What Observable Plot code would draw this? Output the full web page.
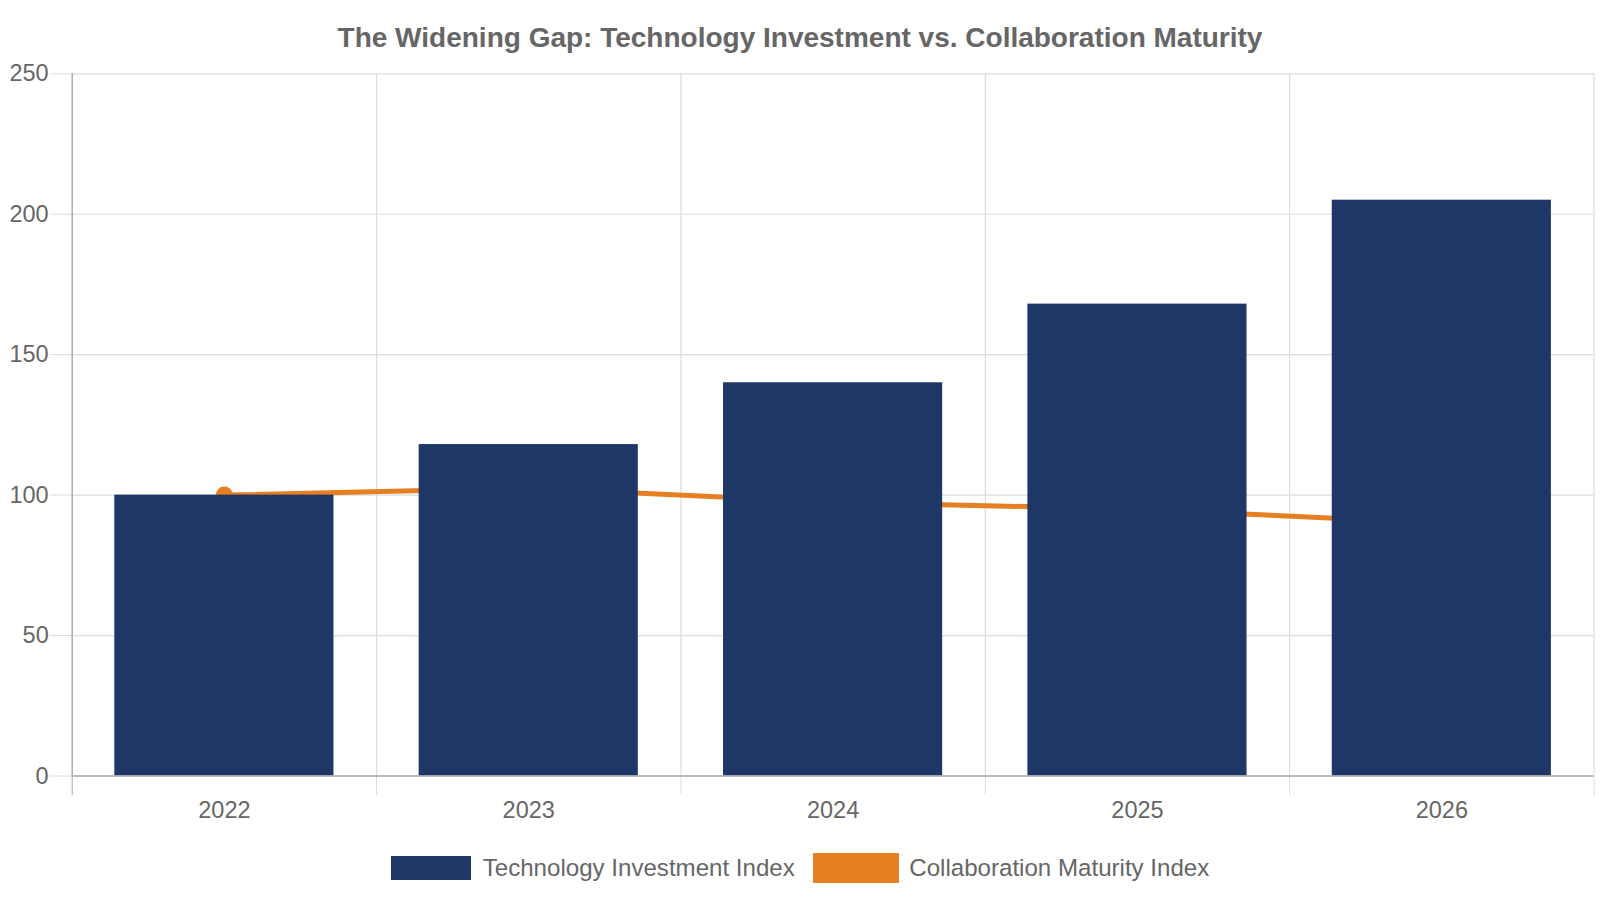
<!DOCTYPE html>
<html>
<head>
<meta charset="utf-8">
<script src="https://cdn.jsdelivr.net/npm/d3@7"></script>
<script src="https://cdn.jsdelivr.net/npm/@observablehq/plot@0.6"></script>
<style>
  html, body { margin: 0; padding: 0; background: #fff; }
  #wrap { position: relative; width: 1600px; height: 900px; font-family: "Liberation Sans", Arial, sans-serif; color: #666; }
  #title { position: absolute; left: 0; top: 0; width: 1600px; height: 75.4px; line-height: 75.4px; text-align: center; font-weight: bold; font-size: 28px; color: #666; }
  #chart { position: absolute; left: 0; top: 60px; }
  #legend { position: absolute; left: 0; top: 835px; width: 1600px; height: 66px; display: flex; justify-content: center; align-items: center; font-size: 24.1px; color: #666; }
  .sw { display: inline-block; }
</style>
</head>
<body>
<div id="wrap">
  <div id="title"></div>
  <div id="chart"></div>
  <div id="legend"></div>
</div>
<script>
const titleText = "The Widening Gap: Technology Investment vs. Collaboration Maturity";
const years = [2022, 2023, 2024, 2025, 2026];
const techInvestment = [100, 118, 140, 168, 205];
const collabMaturity = [100, 102.5, 97.5, 95, 90];
const yTicks = [0, 50, 100, 150, 200, 250];
const seriesNames = ["Technology Investment Index", "Collaboration Maturity Index"];
const seriesColors = ["#1e3766", "#e67e22"];

const data = years.map((year, i) => ({year, tech: techInvestment[i], collab: collabMaturity[i]}));
const boundaries = [years[0] - 0.5, ...years.map(y => y + 0.5)];
const innerBoundaries = boundaries.slice(1);

document.getElementById("title").textContent = titleText;

const gridColor = "#dcdcdc";

const chart = Plot.plot({
  width: 1600,
  height: 775,
  marginLeft: 71.7,
  marginRight: 6.5,
  marginTop: 13.3,
  marginBottom: 59.5,
  x: {type: "linear", domain: [boundaries[0], boundaries[boundaries.length - 1]]},
  y: {domain: [0, 250]},
  style: {fontFamily: "'Liberation Sans', Arial, sans-serif", fontSize: "23.5px", color: "#666", background: "#fff", overflow: "visible"},
  marks: [
    Plot.ruleY(yTicks, {stroke: gridColor, strokeWidth: 1.2}),
    Plot.ruleX(innerBoundaries, {stroke: gridColor, strokeWidth: 1.2}),
    Plot.axisY({ticks: yTicks, tickSize: 22, tickPadding: 1.5, stroke: gridColor, fill: "#666", label: null, tickFormat: d => String(d)}),
    Plot.axisX({ticks: innerBoundaries, tickSize: 19.5, stroke: gridColor, tickFormat: () => "", label: null}),
    Plot.axisX({ticks: [boundaries[0]], tickSize: 19.5, stroke: "#aaa", tickFormat: () => "", label: null}),
    Plot.axisX({ticks: years, tickSize: 0, tickPadding: 25, fill: "#666", tickFormat: d => String(d), label: null}),
    Plot.line(data, {x: "year", y: "collab", stroke: seriesColors[1], strokeWidth: 5}),
    Plot.dot(data, {x: "year", y: "collab", r: 7, fill: seriesColors[1], stroke: seriesColors[1], strokeWidth: 3}),
    Plot.rectY(data, {x1: d => d.year - 0.36, x2: d => d.year + 0.36, y: "tech", fill: seriesColors[0]}),
    Plot.ruleX([boundaries[0]], {stroke: "#aaa", strokeWidth: 1.5}),
    Plot.ruleY([0], {stroke: "#aaa", strokeWidth: 1.5})
  ]
});
document.getElementById("chart").appendChild(chart);

const legend = document.getElementById("legend");
const swatchSizes = [[80, 24], [86, 30]];
const gaps = [[12, 18], [10.5, 0]];
seriesNames.forEach((name, i) => {
  const sw = document.createElement("span");
  sw.className = "sw";
  sw.style.width = swatchSizes[i][0] + "px";
  sw.style.height = swatchSizes[i][1] + "px";
  sw.style.background = seriesColors[i];
  sw.style.marginRight = gaps[i][0] + "px";
  const tx = document.createElement("span");
  tx.textContent = name;
  tx.style.marginRight = gaps[i][1] + "px";
  legend.appendChild(sw);
  legend.appendChild(tx);
});
</script>
</body>
</html>
